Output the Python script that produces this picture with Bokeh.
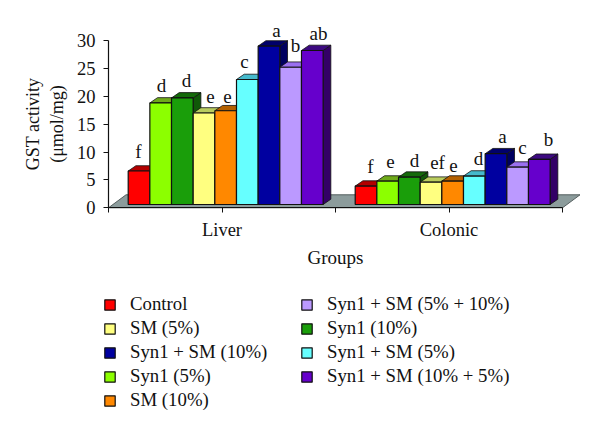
from bokeh.embed import file_html
from bokeh.resources import INLINE
from bokeh.plotting import figure
from bokeh.models import Legend, LegendItem, Range1d, FixedTicker
from bokeh.core.properties import value

groups = ["Liver", "Colonic"]
series = ["Control", "Syn1 (5%)", "Syn1 (10%)", "SM (5%)", "SM (10%)",
          "Syn1 + SM (5%)", "Syn1 + SM (10%)", "Syn1 + SM (5% + 10%)", "Syn1 + SM (10% + 5%)"]
liver = [6.0, 18.2, 19.1, 16.4, 16.8, 22.4, 28.4, 24.6, 27.6]
colonic = [3.3, 4.2, 4.9, 4.0, 4.2, 5.1, 9.1, 6.7, 8.1]
liver_letters = ["f", "d", "d", "e", "e", "c", "a", "b", "ab"]
colonic_letters = ["f", "e", "d", "ef", "e", "d", "a", "c", "b"]
liver_dx = [-0.5, 0.8, 4.2, 6.5, 1.8, -2.8, 7.5, 4.9, 6.2]
liver_dy = [-20, -17, -17, -16, -14, -18, -16, -22, -17]
colonic_dx = [4.5, 2.8, 5.2, 6.5, 0.8, 4.2, 6.5, 4.9, 9.2]
colonic_dy = [-20, -20, -17, -20, -16, -18, -17, -20, -20]
front = ["#ff0000", "#8cff00", "#1a9e0a", "#ffff80", "#ff8800", "#66ffff", "#0000a0", "#bb99ff", "#6600cc"]
top_c = ["#b30000", "#6faa1a", "#146a0a", "#b9cc5e", "#b46000", "#45b9cc", "#00006a", "#9a70f0", "#3d0a80"]
side_c = ["#800000", "#5a8a10", "#105808", "#99995a", "#995500", "#339999", "#000060", "#7755bb", "#330066"]
legend_order = ["Control", "SM (5%)", "Syn1 + SM (10%)", "Syn1 (5%)", "SM (10%)",
                "Syn1 + SM (5% + 10%)", "Syn1 (10%)", "Syn1 + SM (5%)", "Syn1 + SM (10% + 5%)"]

FONT = "Liberation Serif"
PX_X = 227.0
PX_Y = 5.58
BAR_W = 21.66 / PX_X
START = 19.7 / PX_X
DX = 7.7 / PX_X
DY = 5.3 / PX_Y
BASE = 3.3 / PX_Y

FRAME_L, FRAME_R, FRAME_T, FRAME_B = 5, 590, 15, 420
AX_X, AX_Y = 108.0, 207.3
W, H = 596, 426

p = figure(width=W, height=H, frame_width=FRAME_R - FRAME_L, frame_height=FRAME_B - FRAME_T,
           min_border_left=FRAME_L, min_border_right=W - FRAME_R,
           min_border_top=FRAME_T, min_border_bottom=H - FRAME_B,
           x_range=Range1d((FRAME_L - AX_X) / PX_X, (FRAME_R - AX_X) / PX_X),
           y_range=Range1d((AX_Y - FRAME_B) / PX_Y, (AX_Y - FRAME_T) / PX_Y),
           output_backend="svg", toolbar_location=None)
p.outline_line_color = None
p.grid.visible = False
p.background_fill_color = None

p.yaxis.bounds = (0, 30)
p.yaxis.fixed_location = 0
p.yaxis.ticker = FixedTicker(ticks=[0, 5, 10, 15, 20, 25, 30])
p.xaxis.bounds = (0, 2)
p.xaxis.fixed_location = 0
p.xaxis.ticker = FixedTicker(ticks=[0, 1, 2, 0.5, 1.5])
p.xaxis.major_label_overrides = {0: "", 1: "", 2: "", 0.5: groups[0], 1.5: groups[1]}
p.xaxis.axis_label = "Groups"
p.yaxis.axis_label = "GST activity\n(\u03bcmol/mg)"
for ax in (p.xaxis[0], p.yaxis[0]):
    ax.axis_label_text_font = FONT
    ax.axis_label_text_font_style = "normal"
    ax.axis_label_text_font_size = "18px"
    ax.axis_label_text_color = "#111111"
    ax.major_label_text_font = FONT
    ax.major_label_text_color = "#111111"
    ax.minor_tick_line_color = None
    ax.major_tick_in = 0
    ax.major_tick_out = 5
    ax.axis_line_color = "#111111"
    ax.major_tick_line_color = "#111111"
    ax.axis_line_width = 1.2
p.xaxis.axis_label_text_font_size = "19px"
p.yaxis.major_label_text_font_size = "18.5px"
p.xaxis.major_label_text_font_size = "18.5px"
p.xaxis.major_label_standoff = 7
p.xaxis.axis_label_standoff = 4
p.yaxis.major_label_standoff = 8
p.yaxis.axis_label_standoff = 7

fdx, fdy = 17.5 / PX_X, 13 / PX_Y
p.patch([0, fdx, 2 + fdx, 2], [0, fdy, fdy, 0],
        fill_color="#8c9c9c", line_color="#555f5f", line_width=1)

renderers = {}
for i, name in enumerate(series):
    lefts, rights, tops = [], [], []
    for g, vals in enumerate((liver, colonic)):
        l = g + START + i * BAR_W
        r = l + BAR_W
        t = BASE + vals[i]
        lefts.append(l); rights.append(r); tops.append(t)
    p.patches([[r, r + DX, r + DX, r] for r in rights],
              [[BASE, BASE + DY, t + DY, t] for t in tops],
              fill_color=side_c[i], line_color="#111111", line_width=0.8)
    p.patches([[l, l + DX, r + DX, r] for l, r in zip(lefts, rights)],
              [[t, t + DY, t + DY, t] for t in tops],
              fill_color=top_c[i], line_color="#111111", line_width=0.8)
    renderers[name] = p.quad(left=lefts, right=rights, bottom=BASE, top=tops,
                             fill_color=front[i], line_color="#111111", line_width=1.2)

for g, (vals, letters, odx, ody) in enumerate(((liver, liver_letters, liver_dx, liver_dy),
                                               (colonic, colonic_letters, colonic_dx, colonic_dy))):
    src = dict(x=[g + START + (i + 0.5) * BAR_W for i in range(len(series))],
               y=[BASE + v for v in vals], t=letters, ox=odx, oy=ody)
    p.text("x", "y", text="t", source=src, text_font=value(FONT), text_font_size="19px",
           text_color="#111111", text_align="center", text_baseline="middle",
           x_offset="ox", y_offset="oy")

legend = Legend(items=[LegendItem(label=value(n), renderers=[renderers[n]]) for n in legend_order],
                nrows=5, ncols=2, location=(103 - FRAME_L, FRAME_B - 411),
                border_line_color=None, background_fill_alpha=0, padding=0, margin=0,
                glyph_width=13, glyph_height=13, label_standoff=14, spacing=2,
                label_height=20, label_width=168,
                label_text_font=FONT, label_text_font_size="18.8px", label_text_color="#111111")
p.add_layout(legend, "center")

open("out.html", "w").write(file_html(p, INLINE))
